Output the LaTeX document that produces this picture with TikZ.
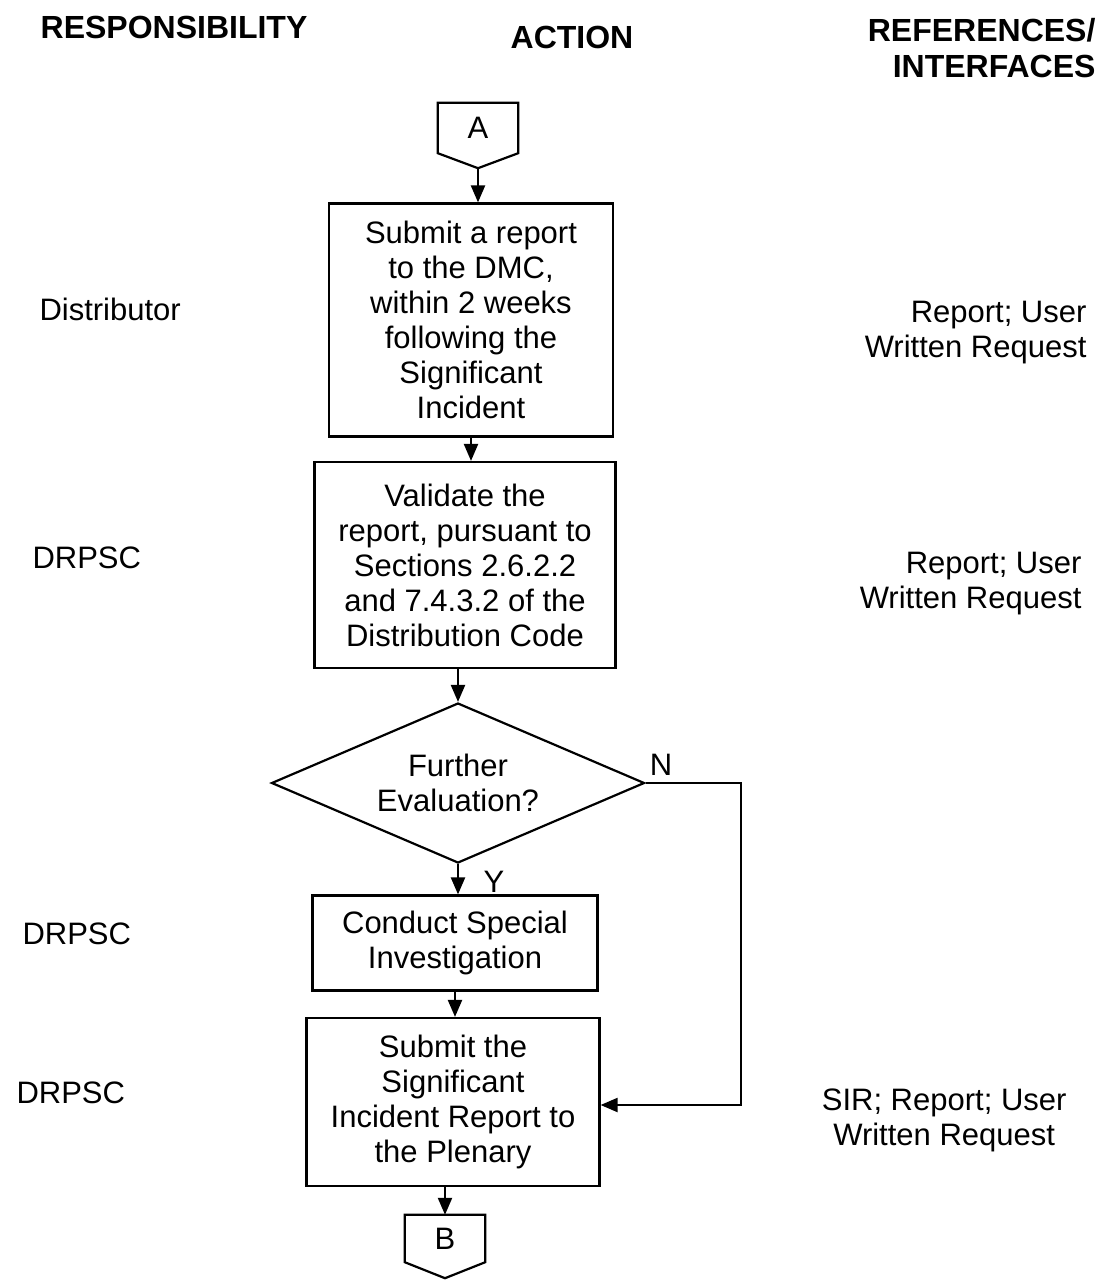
\documentclass[tikz,border=0pt]{standalone}
\usepackage{fontspec}
\setmainfont{Liberation Sans}
\usetikzlibrary{shapes.geometric,arrows.meta,calc}
\begin{document}
\begin{tikzpicture}[x=1pt,y=-1pt,
  every node/.style={font=\fontsize{31}{35}\selectfont},
  hdr/.style={font=\fontsize{32}{36}\selectfont\bfseries, align=center},
  lbl/.style={align=left},
  box/.style={draw, line width=2.2pt, inner sep=0pt, align=center},
  dia/.style={draw, line width=2.2pt, diamond, aspect=2.33, inner sep=0pt, minimum width=373pt, minimum height=160pt, align=center},
  conn/.style={inner sep=0pt, minimum width=80pt, minimum height=50pt},
  arr/.style={line width=2.2pt, -{Triangle[length=17pt,width=14pt]}},
  ln/.style={line width=2.2pt, line join=miter}
]
\useasboundingbox (0,0) rectangle (1111,1280);

% headers
\node[hdr] (h1) at (174,27) {RESPONSIBILITY};
\node[hdr] (h2) at (572,37) {ACTION};
\node[hdr, align=right, anchor=east] (h3) at (1099,48) {REFERENCES/\\INTERFACES};

% connector A
\node[conn] (A) at (478,128) {A};
\draw[ln] (A.north west) -- (A.north east) -- (A.south east) -- ($(A.south)+(0,15)$) -- (A.south west) -- cycle;
\coordinate (Atip) at ($(A.south)+(0,15)$);

% boxes
\node[box, minimum width=284pt, minimum height=233pt] (b1) at (471,320)
  {Submit a report\\to the DMC,\\within 2 weeks\\following the\\Significant\\Incident};
\node[box, minimum width=301pt, minimum height=206pt] (b2) at (465,565)
  {Validate the\\report, pursuant to\\Sections 2.6.2.2\\and 7.4.3.2 of the\\Distribution Code};
\node[dia] (d) at (458,783) {Further\\Evaluation?};
\node[box, minimum width=285pt, minimum height=95pt] (b3) at (455,943)
  {Conduct Special\\Investigation};
\node[box, minimum width=293pt, minimum height=168pt] (b4) at (453,1102)
  {Submit the\\Significant\\Incident Report to\\the Plenary};

% connector B
\node[conn, minimum height=47pt] (B) at (445,1238.5) {B};
\draw[ln] (B.north west) -- (B.north east) -- (B.south east) -- ($(B.south)+(0,16)$) -- (B.south west) -- cycle;

% arrows
\draw[arr] (Atip) -- (Atip |- b1.north);
\draw[arr] (b1.south) -- (b1.south |- b2.north);
\draw[arr] (d.north |- b2.south) -- (d.north);
\draw[arr] (d.south) -- (d.south |- b3.north);
\draw[arr] (b3.south) -- (b3.south |- b4.north);
\draw[arr] (B.north |- b4.south) -- (B.north);
\coordinate (nc) at (741,1105);
\draw[arr] (d.east) -| (nc) -- (b4.east |- nc);

\node (N) at (661,765) {N};
\node (Y) at (494,882) {Y};

% responsibility labels
\node[lbl, anchor=west] (r1) at (36,309) {Distributor};
\node[lbl, anchor=west] (r2) at (29,558) {DRPSC};
\node[lbl, anchor=west] (r3) at (19,934) {DRPSC};
\node[lbl, anchor=west] (r4) at (13,1093) {DRPSC};

% references
\node[align=right, anchor=east] (f1) at (1090,333) {Report; User\\Written Request};
\node[align=right, anchor=east] (f2) at (1085,584) {Report; User\\Written Request};
\node[align=center, anchor=east] (f3) at (1070,1120) {SIR; Report; User\\Written Request};
\end{tikzpicture}
\end{document}
